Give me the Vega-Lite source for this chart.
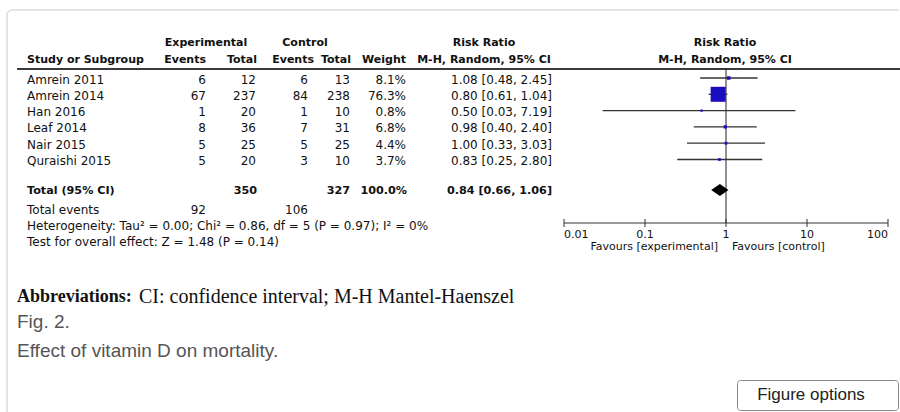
{
  "$schema": "https://vega.github.io/schema/vega-lite/v6.json",
  "width": 900,
  "height": 412,
  "autosize": {"type": "fit", "contains": "padding"},
  "padding": 0,
  "background": "white",
  "config": {
    "view": {"stroke": null},
    "text": {"font": "DejaVu Sans", "fontSize": 12, "color": "#111", "baseline": "middle"}
  },
  "datasets": {
    "rows": [
      {"type": "study", "study": "Amrein 2011", "ee": 6, "et": 12, "ce": 6, "ct": 13, "w": 8.1, "weight": "8.1%", "rr": 1.08, "lo": 0.48, "hi": 2.45, "ci": "1.08 [0.48, 2.45]"},
      {"type": "study", "study": "Amrein 2014", "ee": 67, "et": 237, "ce": 84, "ct": 238, "w": 76.3, "weight": "76.3%", "rr": 0.80, "lo": 0.61, "hi": 1.04, "ci": "0.80 [0.61, 1.04]"},
      {"type": "study", "study": "Han 2016", "ee": 1, "et": 20, "ce": 1, "ct": 10, "w": 0.8, "weight": "0.8%", "rr": 0.50, "lo": 0.03, "hi": 7.19, "ci": "0.50 [0.03, 7.19]"},
      {"type": "study", "study": "Leaf 2014", "ee": 8, "et": 36, "ce": 7, "ct": 31, "w": 6.8, "weight": "6.8%", "rr": 0.98, "lo": 0.40, "hi": 2.40, "ci": "0.98 [0.40, 2.40]"},
      {"type": "study", "study": "Nair 2015", "ee": 5, "et": 25, "ce": 5, "ct": 25, "w": 4.4, "weight": "4.4%", "rr": 1.00, "lo": 0.33, "hi": 3.03, "ci": "1.00 [0.33, 3.03]"},
      {"type": "study", "study": "Quraishi 2015", "ee": 5, "et": 20, "ce": 3, "ct": 10, "w": 3.7, "weight": "3.7%", "rr": 0.83, "lo": 0.25, "hi": 2.80, "ci": "0.83 [0.25, 2.80]"},
      {"type": "total", "study": "Total (95% CI)", "et": 350, "ct": 327, "w": 100, "weight": "100.0%", "rr": 0.84, "lo": 0.66, "hi": 1.06, "ci": "0.84 [0.66, 1.06]", "ev_label": "Total events", "ev_e": 92, "ev_c": 106, "het": "Heterogeneity: Tau² = 0.00; Chi² = 0.86, df = 5 (P = 0.97); I² = 0%", "test": "Test for overall effect: Z = 1.48 (P = 0.14)"}
    ],
    "ticks": [
      {"v": 0.01, "label": "0.01"},
      {"v": 0.1, "label": "0.1"},
      {"v": 1, "label": "1"},
      {"v": 10, "label": "10"},
      {"v": 100, "label": "100"}
    ]
  },
  "data": {"name": "rows"},
  "layer": [
    {
      "data": {"values": [{}]},
      "mark": {"type": "rect", "fill": "white", "fillOpacity": 0, "stroke": "#dcdcdc", "strokeWidth": 1.5, "cornerRadius": 5, "clip": true},
      "encoding": {"x": {"value": 7}, "x2": {"value": 940}, "y": {"value": 10}, "y2": {"value": 450}}
    },
    {
      "data": {"values": [{}]},
      "mark": {"type": "rule", "color": "#3a3a3a", "strokeWidth": 2},
      "encoding": {"x": {"value": 17}, "x2": {"value": 900}, "y": {"value": 69}}
    },
    {
      "data": {"values": [{"v": 1}]},
      "mark": {"type": "rule", "color": "#222", "strokeWidth": 1},
      "encoding": {
        "x": {"field": "v", "type": "quantitative", "scale": {"type": "log", "domain": [0.01, 100], "range": [564, 888]}, "axis": null},
        "y": {"value": 69}, "y2": {"value": 223}
      }
    },
    {
      "transform": [{"filter": "datum.type == 'study'"}],
      "mark": {"type": "rule", "color": "#333", "strokeWidth": 1.3},
      "encoding": {
        "x": {"field": "lo", "type": "quantitative", "scale": {"type": "log", "domain": [0.01, 100], "range": [564, 888]}, "axis": null},
        "x2": {"field": "hi"},
        "y": {"field": "study", "type": "nominal", "scale": {"type": "point", "domain": ["Amrein 2011", "Amrein 2014", "Han 2016", "Leaf 2014", "Nair 2015", "Quraishi 2015"], "range": [78, 159.5], "padding": 0}, "axis": null}
      }
    },
    {
      "transform": [{"filter": "datum.type == 'study'"}],
      "mark": {"type": "square", "color": "#1a0dbf", "opacity": 1, "filled": true},
      "encoding": {
        "x": {"field": "rr", "type": "quantitative", "scale": {"type": "log", "domain": [0.01, 100], "range": [564, 888]}, "axis": null},
        "y": {"field": "study", "type": "nominal", "axis": null},
        "size": {"field": "w", "type": "quantitative", "scale": {"type": "pow", "exponent": 1.5, "domain": [0, 76.3], "range": [5, 225]}, "legend": null}
      }
    },
    {
      "transform": [{"filter": "datum.type == 'total'"}],
      "mark": {"type": "point", "shape": "M-1,0L0,-0.68L1,0L0,0.68Z", "filled": true, "color": "#000", "opacity": 1, "size": 300},
      "encoding": {
        "x": {"field": "rr", "type": "quantitative", "scale": {"type": "log", "domain": [0.01, 100], "range": [564, 888]}, "axis": null},
        "y": {"value": 190}
      }
    },
    {
      "data": {"values": [{"a": 0.01, "b": 100}]},
      "mark": {"type": "rule", "color": "#333", "strokeWidth": 1},
      "encoding": {
        "x": {"field": "a", "type": "quantitative", "scale": {"type": "log", "domain": [0.01, 100], "range": [564, 888]}, "axis": null},
        "x2": {"field": "b"},
        "y": {"value": 223}
      }
    },
    {
      "data": {"name": "ticks"},
      "mark": {"type": "rule", "color": "#333", "strokeWidth": 1},
      "encoding": {
        "x": {"field": "v", "type": "quantitative", "scale": {"type": "log", "domain": [0.01, 100], "range": [564, 888]}, "axis": null},
        "y": {"value": 219}, "y2": {"value": 227}
      }
    },
    {
      "data": {"name": "ticks"},
      "transform": [{"filter": "datum.v == 0.01"}],
      "mark": {"type": "text", "align": "left", "fontSize": 11},
      "encoding": {
        "x": {"field": "v", "type": "quantitative", "scale": {"type": "log", "domain": [0.01, 100], "range": [564, 888]}, "axis": null},
        "y": {"value": 235},
        "text": {"field": "label"}
      }
    },
    {
      "data": {"name": "ticks"},
      "transform": [{"filter": "datum.v > 0.01 && datum.v < 100"}],
      "mark": {"type": "text", "align": "center", "fontSize": 11},
      "encoding": {
        "x": {"field": "v", "type": "quantitative", "scale": {"type": "log", "domain": [0.01, 100], "range": [564, 888]}, "axis": null},
        "y": {"value": 235},
        "text": {"field": "label"}
      }
    },
    {
      "data": {"name": "ticks"},
      "transform": [{"filter": "datum.v == 100"}],
      "mark": {"type": "text", "align": "right", "fontSize": 11},
      "encoding": {
        "x": {"field": "v", "type": "quantitative", "scale": {"type": "log", "domain": [0.01, 100], "range": [564, 888]}, "axis": null},
        "y": {"value": 235},
        "text": {"field": "label"}
      }
    },
    {
      "data": {"values": [{"t": "Favours [experimental]"}]},
      "mark": {"type": "text", "align": "right", "fontSize": 11},
      "encoding": {"x": {"value": 718}, "y": {"value": 247}, "text": {"field": "t"}}
    },
    {
      "data": {"values": [{"t": "Favours [control]"}]},
      "mark": {"type": "text", "align": "left", "fontSize": 11},
      "encoding": {"x": {"value": 732}, "y": {"value": 247}, "text": {"field": "t"}}
    },
    {
      "data": {"values": [{"t": "Experimental"}]},
      "mark": {"type": "text", "align": "center", "fontWeight": "bold", "fontSize": 11},
      "encoding": {"x": {"value": 206}, "y": {"value": 43}, "text": {"field": "t"}}
    },
    {
      "data": {"values": [{"t": "Control"}]},
      "mark": {"type": "text", "align": "center", "fontWeight": "bold", "fontSize": 11},
      "encoding": {"x": {"value": 305}, "y": {"value": 43}, "text": {"field": "t"}}
    },
    {
      "data": {"values": [{"t": "Risk Ratio"}]},
      "mark": {"type": "text", "align": "center", "fontWeight": "bold", "fontSize": 11},
      "encoding": {"x": {"value": 484}, "y": {"value": 43}, "text": {"field": "t"}}
    },
    {
      "data": {"values": [{"t": "Risk Ratio"}]},
      "mark": {"type": "text", "align": "center", "fontWeight": "bold", "fontSize": 11},
      "encoding": {"x": {"value": 725}, "y": {"value": 43}, "text": {"field": "t"}}
    },
    {
      "data": {"values": [{"t": "Study or Subgroup"}]},
      "mark": {"type": "text", "align": "left", "fontWeight": "bold", "fontSize": 11},
      "encoding": {"x": {"value": 27}, "y": {"value": 60}, "text": {"field": "t"}}
    },
    {
      "data": {"values": [{"t": "Events"}]},
      "mark": {"type": "text", "align": "right", "fontWeight": "bold", "fontSize": 11},
      "encoding": {"x": {"value": 206}, "y": {"value": 60}, "text": {"field": "t"}}
    },
    {
      "data": {"values": [{"t": "Total"}]},
      "mark": {"type": "text", "align": "right", "fontWeight": "bold", "fontSize": 11},
      "encoding": {"x": {"value": 257}, "y": {"value": 60}, "text": {"field": "t"}}
    },
    {
      "data": {"values": [{"t": "Events"}]},
      "mark": {"type": "text", "align": "right", "fontWeight": "bold", "fontSize": 11},
      "encoding": {"x": {"value": 314}, "y": {"value": 60}, "text": {"field": "t"}}
    },
    {
      "data": {"values": [{"t": "Total"}]},
      "mark": {"type": "text", "align": "right", "fontWeight": "bold", "fontSize": 11},
      "encoding": {"x": {"value": 351}, "y": {"value": 60}, "text": {"field": "t"}}
    },
    {
      "data": {"values": [{"t": "Weight"}]},
      "mark": {"type": "text", "align": "right", "fontWeight": "bold", "fontSize": 11},
      "encoding": {"x": {"value": 406}, "y": {"value": 60}, "text": {"field": "t"}}
    },
    {
      "data": {"values": [{"t": "M-H, Random, 95% CI"}]},
      "mark": {"type": "text", "align": "center", "fontWeight": "bold", "fontSize": 11},
      "encoding": {"x": {"value": 484}, "y": {"value": 60}, "text": {"field": "t"}}
    },
    {
      "data": {"values": [{"t": "M-H, Random, 95% CI"}]},
      "mark": {"type": "text", "align": "center", "fontWeight": "bold", "fontSize": 11},
      "encoding": {"x": {"value": 725}, "y": {"value": 60}, "text": {"field": "t"}}
    },
    {
      "transform": [{"filter": "datum.type == 'study'"}],
      "mark": {"type": "text", "align": "left", "dy": 1.5},
      "encoding": {"x": {"value": 27}, "y": {"field": "study", "type": "nominal", "axis": null}, "text": {"field": "study"}}
    },
    {
      "transform": [{"filter": "datum.type == 'study'"}],
      "mark": {"type": "text", "align": "right", "dy": 1.5},
      "encoding": {"x": {"value": 206}, "y": {"field": "study", "type": "nominal", "axis": null}, "text": {"field": "ee", "type": "quantitative"}}
    },
    {
      "transform": [{"filter": "datum.type == 'study'"}],
      "mark": {"type": "text", "align": "right", "dy": 1.5},
      "encoding": {"x": {"value": 256}, "y": {"field": "study", "type": "nominal", "axis": null}, "text": {"field": "et", "type": "quantitative"}}
    },
    {
      "transform": [{"filter": "datum.type == 'study'"}],
      "mark": {"type": "text", "align": "right", "dy": 1.5},
      "encoding": {"x": {"value": 308}, "y": {"field": "study", "type": "nominal", "axis": null}, "text": {"field": "ce", "type": "quantitative"}}
    },
    {
      "transform": [{"filter": "datum.type == 'study'"}],
      "mark": {"type": "text", "align": "right", "dy": 1.5},
      "encoding": {"x": {"value": 350}, "y": {"field": "study", "type": "nominal", "axis": null}, "text": {"field": "ct", "type": "quantitative"}}
    },
    {
      "transform": [{"filter": "datum.type == 'study'"}],
      "mark": {"type": "text", "align": "right", "dy": 1.5},
      "encoding": {"x": {"value": 406}, "y": {"field": "study", "type": "nominal", "axis": null}, "text": {"field": "weight"}}
    },
    {
      "transform": [{"filter": "datum.type == 'study'"}],
      "mark": {"type": "text", "align": "right", "dy": 1.5},
      "encoding": {"x": {"value": 552}, "y": {"field": "study", "type": "nominal", "axis": null}, "text": {"field": "ci"}}
    },
    {
      "transform": [{"filter": "datum.type == 'total'"}],
      "mark": {"type": "text", "align": "left", "fontWeight": "bold", "fontSize": 11.2},
      "encoding": {"x": {"value": 27}, "y": {"value": 191}, "text": {"field": "study"}}
    },
    {
      "transform": [{"filter": "datum.type == 'total'"}],
      "mark": {"type": "text", "align": "right", "fontWeight": "bold", "fontSize": 11.2},
      "encoding": {"x": {"value": 257}, "y": {"value": 191}, "text": {"field": "et", "type": "quantitative"}}
    },
    {
      "transform": [{"filter": "datum.type == 'total'"}],
      "mark": {"type": "text", "align": "right", "fontWeight": "bold", "fontSize": 11.2},
      "encoding": {"x": {"value": 350}, "y": {"value": 191}, "text": {"field": "ct", "type": "quantitative"}}
    },
    {
      "transform": [{"filter": "datum.type == 'total'"}],
      "mark": {"type": "text", "align": "right", "fontWeight": "bold", "fontSize": 11.2},
      "encoding": {"x": {"value": 407}, "y": {"value": 191}, "text": {"field": "weight"}}
    },
    {
      "transform": [{"filter": "datum.type == 'total'"}],
      "mark": {"type": "text", "align": "right", "fontWeight": "bold", "fontSize": 11.2},
      "encoding": {"x": {"value": 552}, "y": {"value": 191}, "text": {"field": "ci"}}
    },
    {
      "transform": [{"filter": "datum.type == 'total'"}],
      "mark": {"type": "text", "align": "left"},
      "encoding": {"x": {"value": 27}, "y": {"value": 210}, "text": {"field": "ev_label"}}
    },
    {
      "transform": [{"filter": "datum.type == 'total'"}],
      "mark": {"type": "text", "align": "right"},
      "encoding": {"x": {"value": 206}, "y": {"value": 210}, "text": {"field": "ev_e", "type": "quantitative"}}
    },
    {
      "transform": [{"filter": "datum.type == 'total'"}],
      "mark": {"type": "text", "align": "right"},
      "encoding": {"x": {"value": 308}, "y": {"value": 210}, "text": {"field": "ev_c", "type": "quantitative"}}
    },
    {
      "transform": [{"filter": "datum.type == 'total'"}],
      "mark": {"type": "text", "align": "left"},
      "encoding": {"x": {"value": 27}, "y": {"value": 226}, "text": {"field": "het"}}
    },
    {
      "transform": [{"filter": "datum.type == 'total'"}],
      "mark": {"type": "text", "align": "left"},
      "encoding": {"x": {"value": 27}, "y": {"value": 242}, "text": {"field": "test"}}
    },
    {
      "data": {"values": [{"t": "Abbreviations:"}]},
      "mark": {"type": "text", "align": "left", "font": "Liberation Serif", "fontSize": 18, "fontWeight": "bold", "color": "#111"},
      "encoding": {"x": {"value": 17}, "y": {"value": 297}, "text": {"field": "t"}}
    },
    {
      "data": {"values": [{"t": "CI: confidence interval; M-H Mantel-Haenszel"}]},
      "mark": {"type": "text", "align": "left", "font": "Liberation Serif", "fontSize": 20, "color": "#111"},
      "encoding": {"x": {"value": 139}, "y": {"value": 297}, "text": {"field": "t"}}
    },
    {
      "data": {"values": [{"t": "Fig. 2."}]},
      "mark": {"type": "text", "align": "left", "font": "Liberation Sans", "fontSize": 19, "color": "#555"},
      "encoding": {"x": {"value": 17}, "y": {"value": 322}, "text": {"field": "t"}}
    },
    {
      "data": {"values": [{"t": "Effect of vitamin D on mortality."}]},
      "mark": {"type": "text", "align": "left", "font": "Liberation Sans", "fontSize": 19, "color": "#555"},
      "encoding": {"x": {"value": 17}, "y": {"value": 351}, "text": {"field": "t"}}
    },
    {
      "data": {"values": [{}]},
      "mark": {"type": "rect", "fill": "white", "stroke": "#8a8a8a", "strokeWidth": 1, "cornerRadius": 3},
      "encoding": {"x": {"value": 737.5}, "x2": {"value": 898.5}, "y": {"value": 380.5}, "y2": {"value": 410.5}}
    },
    {
      "data": {"values": [{"t": "Figure options"}]},
      "mark": {"type": "text", "align": "center", "font": "Liberation Sans", "fontSize": 17, "color": "#222"},
      "encoding": {"x": {"value": 811}, "y": {"value": 395}, "text": {"field": "t"}}
    }
  ]
}
